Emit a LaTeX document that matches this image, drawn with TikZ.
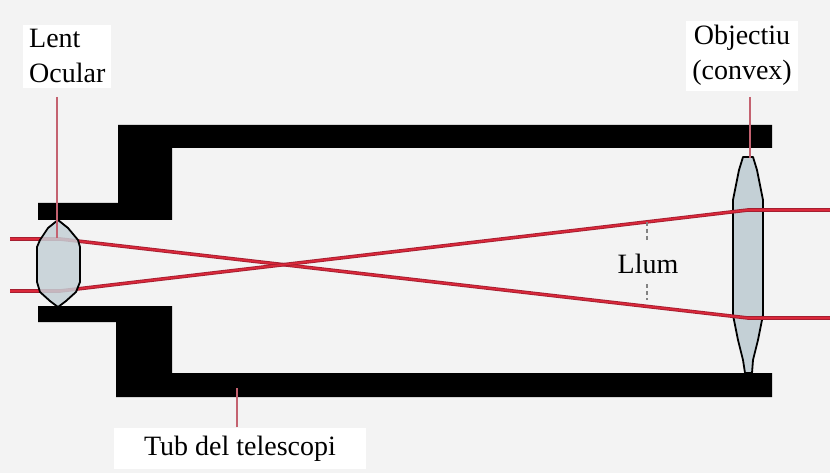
\documentclass[tikz,border=0pt]{standalone}
\usepackage{fontspec}
\setmainfont{Liberation Serif}
\definecolor{bgcol}{RGB}{243,243,243}
\definecolor{raycol}{RGB}{218,40,58}
\definecolor{rayedge}{RGB}{165,30,48}
\definecolor{ptrcol}{RGB}{196,98,112}
\definecolor{lensfill}{RGB}{196,208,214}
\definecolor{dashcol}{RGB}{130,130,130}
\begin{document}
\begin{tikzpicture}[x=1pt,y=-1pt,
  tube/.style={fill=black},
  ray/.style={draw=rayedge,line width=3.6pt,
    postaction={draw=raycol,line width=1.8pt}},
  pointer/.style={draw=ptrcol,line width=1.6pt},
  lensbody/.style={fill=lensfill,draw=black,line width=1.8pt,line join=round},
  lbl/.style={font=\fontsize{28}{35}\selectfont,text=black,fill=white,inner xsep=6pt,inner ysep=5pt},
  guide/.style={draw=dashcol,line width=1.3pt,dash pattern=on 4pt off 3pt}
]
% canvas
\fill[bgcol] (0,0) rectangle (830,473);
\useasboundingbox (0,0) rectangle (830,473);

% telescope tube walls (upper and lower halves)
\fill[tube] (38,203) -- (118,203) -- (118,125) -- (772,125) -- (772,148)
  -- (172,148) -- (172,220) -- (38,220) -- cycle;
\fill[tube] (38,306) -- (172,306) -- (172,373) -- (772,373) -- (772,397)
  -- (116,397) -- (116,322) -- (38,322) -- cycle;

% objective lens
\draw[lensbody] (743,157) -- (753,157) -- (757,170) -- (763,200) -- (763,315)
  -- (758,340) -- (753,360) -- (752,373) -- (745,373) -- (743,360) -- (738,340)
  -- (733,315) -- (733,200) -- (739,170) -- cycle;

% light rays
\coordinate (inA)  at (10,239);
\coordinate (inB)  at (10,291);
\coordinate (eyeA) at (60,239);
\coordinate (eyeB) at (60,291);
\coordinate (objA) at (748,318);
\coordinate (objB) at (748,210);
\coordinate (outA) at (830,318);
\coordinate (outB) at (830,210);
\draw[ray] (inA) -- (eyeA) -- (objA) -- (outA);
\draw[ray] (inB) -- (eyeB) -- (objB) -- (outB);

% eyepiece lens, over the rays
\draw[lensbody,fill opacity=.85] (58,220) -- (68,228) -- (78,240) -- (80,247)
  -- (80,282) -- (76,292) -- (66,301) -- (58,307) -- (50,301) -- (40,292)
  -- (37,282) -- (37,247) -- (40,240) -- (48,228) -- cycle;

% labels
\node[lbl,anchor=base west,align=left] (ocular) at (23,83) {Lent\\Ocular};
\node[lbl,anchor=base,align=center] (objectiu) at (742,80) {Objectiu\\(convex)};
\node[lbl,anchor=base,inner xsep=30pt,inner ysep=8pt] (tub) at (240,455) {Tub del telescopi};
\node[font=\fontsize{28}{35}\selectfont,anchor=base,inner xsep=0pt,inner ysep=11pt] (llum) at (648,273) {Llum};

% pointer lines
\coordinate (ocTop)  at (57,97);
\coordinate (ocEnd)  at (57,238);
\coordinate (obTop)  at (750,97);
\coordinate (obEnd)  at (750,158);
\coordinate (tubEnd) at (237,388);
\coordinate (llA)    at (647,222);
\coordinate (llB)    at (647,300);
\draw[pointer] (ocTop) -- (ocEnd);
\draw[pointer] (obTop) -- (obEnd);
\draw[pointer] (tub.north -| tubEnd) -- (tubEnd);
\draw[guide] (llA) -- (llum.north -| llA);
\draw[guide] (llum.south -| llB) -- (llB);
\end{tikzpicture}
\end{document}
